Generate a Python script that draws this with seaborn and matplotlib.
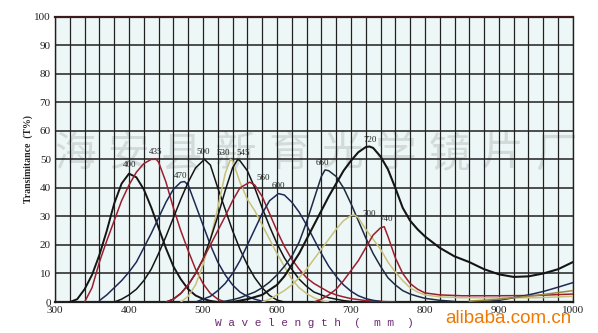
import matplotlib
matplotlib.use("Agg")
import matplotlib.pyplot as plt
import pandas as pd
import seaborn as sns

# ---------------- data ----------------
wl_400 = [320, 330, 340, 350, 360, 370, 380, 390, 400, 410, 420, 430, 440, 450, 460, 470, 480, 490, 500, 510, 520]
t_400 = [0, 1, 4.5, 9.5, 16.5, 25, 34.5, 41.5, 45, 43.7, 39.5, 33.2, 26, 18.8, 12.5, 8, 4.5, 2.3, 1.1, 0.4, 0]

wl_435 = [340, 350, 360, 370, 380, 390, 400, 410, 420, 430, 437, 440, 450, 460, 470, 480, 490, 500, 510, 520, 530]
t_435 = [0, 5, 14, 21.5, 28.5, 35.5, 41, 45.5, 48.5, 50, 50, 49, 42, 33, 25, 18, 11.5, 6.5, 3, 1, 0]

wl_470 = [360, 370, 380, 390, 400, 410, 420, 430, 440, 450, 460, 470, 475, 480, 490, 500, 510, 520, 530, 540, 550, 560, 570, 580, 590]
t_470 = [0.5, 2.5, 5, 7.5, 10.5, 14, 19, 24, 29.5, 35, 39.5, 42, 42.2, 41, 34, 27, 20, 14, 9.5, 6, 3.5, 2, 1, 0.3, 0]

wl_500 = [380, 390, 400, 410, 420, 430, 440, 450, 460, 470, 480, 490, 502, 510, 520, 530, 540, 550, 560, 570, 580, 590, 600, 610]
t_500 = [0, 1, 2.5, 4.5, 7.5, 11.5, 17, 23, 29.5, 36, 42, 47, 50, 48, 40, 32.5, 25, 18.5, 13, 8.5, 5, 2.3, 0.7, 0]

wl_530 = [470, 480, 490, 500, 510, 520, 530, 537, 540, 550, 560, 570, 580, 590, 600, 610, 620, 630, 640, 650, 660, 670]
t_530 = [0, 2, 6, 13, 22, 33, 45, 50, 49.5, 42, 36, 32, 27, 22, 17, 12.5, 8, 5, 3, 1.5, 0.5, 0]

wl_545 = [450, 460, 470, 480, 490, 500, 510, 520, 530, 540, 547, 550, 560, 570, 580, 590, 600, 610, 620, 630, 640, 650, 660, 670, 680, 690, 700]
t_545 = [0, 1, 3, 6, 10, 15, 22, 30, 39, 47, 50, 49.5, 46, 40, 33, 26.5, 20.5, 15.5, 11.5, 8, 5.5, 3.5, 2.5, 1.5, 1, 0.5, 0.2]

wl_560 = [450, 460, 470, 480, 490, 500, 510, 520, 530, 540, 550, 563, 570, 580, 590, 600, 610, 620, 630, 640, 650, 660, 670, 680, 690, 700, 720, 740, 760]
t_560 = [0, 1, 3, 6, 10, 15, 20, 25, 30, 35.5, 40, 42, 41, 37, 31, 25, 19.5, 15, 11.5, 8.5, 6.5, 5, 3.5, 2.5, 1.8, 1.2, 0.5, 0.2, 0]

wl_600 = [490, 500, 510, 520, 530, 540, 550, 560, 570, 580, 590, 602, 610, 620, 630, 640, 650, 660, 670, 680, 690, 700, 710, 720, 730, 740]
t_600 = [0, 1, 2, 4, 6.5, 10, 14.5, 20, 25.5, 31, 35.5, 38, 37.5, 35, 31.5, 27, 22, 17, 12.5, 9, 6, 3.8, 2.2, 1.2, 0.6, 0.2]

wl_660 = [520, 530, 540, 550, 560, 570, 580, 590, 600, 610, 620, 630, 640, 650, 660, 665, 670, 680, 690, 700, 710, 720, 730, 740, 750, 760, 770, 780, 790, 800, 820, 840]
t_660 = [0, 0.3, 0.8, 1.5, 2.5, 3.5, 5, 7, 9.5, 12.5, 16, 21, 28, 36, 44, 46.3, 46, 44, 40, 34.5, 28.5, 22.5, 17, 12.5, 8.5, 6, 4, 2.8, 2, 1.3, 0.6, 0.2]

wl_720 = [540, 560, 580, 600, 610, 620, 630, 640, 650, 660, 670, 680, 690, 700, 710, 720, 725, 730, 740, 750, 760, 770, 780, 790, 800, 820, 840, 860, 880, 900, 920, 940, 960, 980, 1000]
t_720 = [0, 1, 2.5, 6, 9, 13, 17, 22, 27, 32, 37, 41.5, 46, 49.5, 52.5, 54.3, 54.5, 54, 51, 46.5, 40, 33, 28.5, 25.5, 23, 19, 16, 14, 11.5, 9.7, 8.8, 9, 10, 11.5, 14]

wl_700 = [580, 590, 600, 610, 620, 630, 640, 650, 660, 670, 680, 690, 700, 705, 710, 720, 730, 740, 750, 760, 770, 780, 790, 800, 820, 850, 900, 950, 1000]
t_700 = [0, 1, 2.5, 4, 6, 8.5, 11.5, 15, 18.5, 22, 25.5, 28.5, 30.3, 30.5, 29.5, 25.5, 22, 18.5, 14, 10.5, 7.5, 5, 3.5, 2.5, 1.8, 1.5, 1.5, 1.5, 2]

wl_740 = [650, 660, 670, 680, 690, 700, 710, 720, 730, 740, 745, 750, 760, 770, 780, 790, 800, 820, 850, 900, 950, 1000]
t_740 = [0, 1, 2.5, 4.5, 7.5, 11, 14.5, 19, 23.5, 26, 26.4, 23, 15.5, 10, 6.5, 4.5, 3.2, 2.5, 2.2, 2.2, 2.3, 2.8]

wl_ir_navy = [880, 900, 920, 940, 960, 980, 1000]
t_ir_navy = [0.2, 0.6, 1.5, 2.5, 3.7, 5.2, 6.8]
wl_ir_olive = [860, 900, 950, 1000]
t_ir_olive = [0.3, 1, 2.3, 4]

series_names = ["400", "435", "470", "500", "530", "545", "560", "600", "660", "720", "700", "740", "ir_navy", "ir_olive"]
series_wl = [wl_400, wl_435, wl_470, wl_500, wl_530, wl_545, wl_560, wl_600, wl_660, wl_720, wl_700, wl_740, wl_ir_navy, wl_ir_olive]
series_t = [t_400, t_435, t_470, t_500, t_530, t_545, t_560, t_600, t_660, t_720, t_700, t_740, t_ir_navy, t_ir_olive]

# peak labels: text, wavelength, transmittance position
label_text = ["400", "435", "470", "500", "530", "545", "560", "600", "660", "720", "700", "740"]
label_x = [401, 436, 470, 500, 527, 555, 581, 602, 661, 726, 724, 747]
label_y = [46.5, 51, 42.8, 51, 50.7, 50.8, 42.2, 39.2, 47.2, 55.4, 29.5, 27.6]

watermark_chars = list("海安县新育光学镜片厂")

BLACK = "#151515"
RED = "#9c1f2e"
NAVY = "#1d2a55"
YELLOW = "#c9c27a"
OLIVE = "#9a8a40"
palette = {"400": BLACK, "435": RED, "470": NAVY, "500": BLACK, "530": YELLOW,
           "545": BLACK, "560": RED, "600": NAVY, "660": "#1c2b3f", "720": BLACK,
           "700": YELLOW, "740": RED, "ir_navy": NAVY, "ir_olive": OLIVE}
widths = {"720": 1.5, "400": 1.4}

rows = []
for name, xs, ys in zip(series_names, series_wl, series_t):
    for x, y in zip(xs, ys):
        rows.append({"filter": name, "wavelength": x, "T": y})
df = pd.DataFrame(rows)

# ---------------- figure ----------------
sns.set_theme(style="white")
plt.rcParams["font.family"] = ["Liberation Serif", "Noto Sans CJK SC", "DejaVu Sans"]

fig = plt.figure(figsize=(5.98, 3.33), dpi=100)
ax = fig.add_axes([0.092, 0.093, 0.866, 0.857])
ax.set_facecolor("#eef7f7")

# faint watermark behind grid and curves
n = len(watermark_chars)
for i, ch in enumerate(watermark_chars):
    xf = 0.125 + i * (0.93 - 0.125) / (n - 1)
    ax.text(xf, 0.535, ch, transform=fig.transFigure, fontsize=30, color="#d3dada",
            ha="center", va="center", family=["Noto Sans CJK SC"], zorder=0.2,
            clip_on=False)

for name in series_names:
    sub = df[df["filter"] == name]
    sns.lineplot(data=sub, x="wavelength", y="T", color=palette[name],
                 lw=widths.get(name, 1.1), sort=False, estimator=None, ax=ax,
                 legend=False, zorder=3)

ax.set_xlim(300, 1000)
ax.set_ylim(0, 100)
ax.set_xticks(range(300, 1001, 100))
ax.set_xticks(range(300, 1001, 20), minor=True)
ax.set_yticks(range(0, 101, 10))
ax.grid(which="both", axis="x", color="#202020", lw=0.9, zorder=1)
ax.grid(which="major", axis="y", color="#202020", lw=1.1, zorder=1)
ax.set_axisbelow(True)
ax.tick_params(axis="both", which="both", length=0, labelsize=8, colors="#222222", pad=3)
for s in ax.spines.values():
    s.set_color("#202020")
    s.set_linewidth(1.0)
ax.spines["top"].set_color("#3a1a1a")
ax.spines["top"].set_linewidth(1.6)
ax.spines["bottom"].set_linewidth(1.6)

for txt, x, y in zip(label_text, label_x, label_y):
    ax.text(x, y, txt, fontsize=6.5, ha="center", va="bottom", color="#222222", zorder=4)

ax.set_xlabel("W a v e l e n g t h  (  m m  )", fontsize=8, color="#6a2a72",
              family=["Liberation Mono"], labelpad=2)
ax.set_ylabel("Transimitance  (T%)", fontsize=7, color="#222222", labelpad=1,
              fontweight="bold")

fig.text(0.85, 0.045, "alibaba.com.cn", fontsize=13.5, color="#f07800",
         ha="center", va="center", family=["Liberation Sans"])

fig.savefig("out.png", dpi=100)
